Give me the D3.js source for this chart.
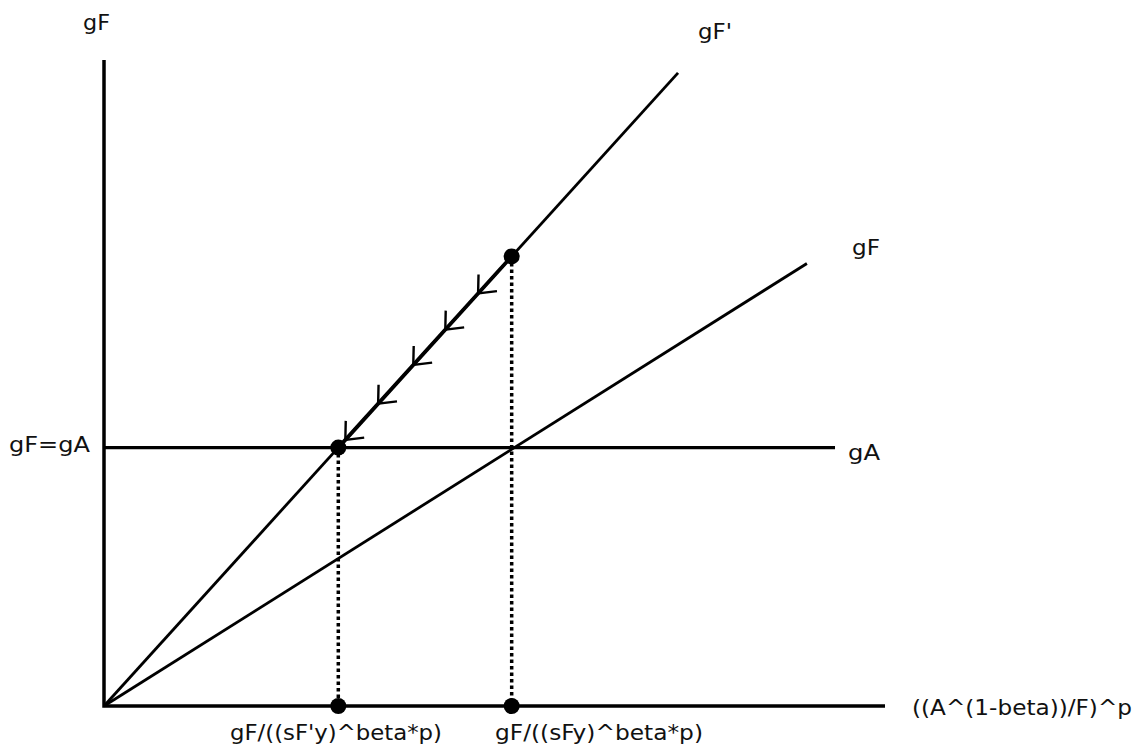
<!DOCTYPE html>
<html>
<head>
<meta charset="utf-8">
<script src="https://cdn.jsdelivr.net/npm/d3@7"></script>
<style>
  html, body { margin: 0; padding: 0; background: #fff; }
  svg { display: block; }
  text { font-family: "DejaVu Sans", Verdana, sans-serif; fill: #111; }
</style>
</head>
<body>
<svg id="chart" width="1145" height="747"></svg>
<script>
// ---- data (abstract diagram units) ----
const axisMax = [10, 10];                 // x-axis and y-axis extent
const gA = 4;                             // horizontal growth line gF = gA
const gALineEnd = 9.36;                   // where the gA line stops
const gFPrimeLine = [[0, 0], [7.35, 9.8]]; // steeper curve gF'
const gFLine = [[0, 0], [9, 6.85]];        // flatter curve gF
const steadyPoints = [[3.0, 4], [5.22, 6.96]]; // dots on gF' (new eq., old position)
const dropPoints = [[3.0, 4], [5.22, 6.96]];   // where dotted lines start
const axisPoints = [3.0, 5.22];                // dots on x-axis
const arrowX = [4.79, 4.37, 3.96, 3.51, 3.09]; // arrowheads along gF'
const xTickLabels = ["gF/((sF'y)^beta*p)", "gF/((sFy)^beta*p)"];
const xAxisTitle = "((A^(1-beta))/F)^p";
const yAxisTitle = "gF";

// ---- scales ----
const svg = d3.select("#chart");
const x = d3.scaleLinear().domain([0, axisMax[0]]).range([104, 885]);
const y = d3.scaleLinear().domain([0, axisMax[1]]).range([706, 60]);
const line = d3.line().x(d => x(d[0])).y(d => y(d[1]));

// ---- axes ----
svg.append("path")
  .attr("d", line([[0, axisMax[1]], [0, 0], [axisMax[0], 0]]))
  .attr("fill", "none").attr("stroke", "#000").attr("stroke-width", 3.5)
  .attr("stroke-linejoin", "miter");

// ---- dotted drop lines ----
dropPoints.forEach((p, i) => {
  svg.append("line")
    .attr("x1", x(p[0])).attr("y1", y(p[1]))
    .attr("x2", x(axisPoints[i])).attr("y2", y(0))
    .attr("stroke", "#000").attr("stroke-width", 3.5)
    .attr("stroke-dasharray", "3.5,3");
});

// ---- curves ----
svg.append("path").attr("d", line([[0, gA], [gALineEnd, gA]]))
  .attr("stroke", "#000").attr("stroke-width", 3.2).attr("fill", "none");
svg.append("path").attr("d", line(gFPrimeLine))
  .attr("stroke", "#000").attr("stroke-width", 2.8).attr("fill", "none");
svg.append("path").attr("d", line(gFLine))
  .attr("stroke", "#000").attr("stroke-width", 2.8).attr("fill", "none");

// thicker segment between the two dots along gF'
svg.append("path").attr("d", line(steadyPoints))
  .attr("stroke", "#000").attr("stroke-width", 3.8).attr("fill", "none");

// ---- arrowheads (pointing toward origin) ----
const slope = gFPrimeLine[1][1] / gFPrimeLine[1][0];
arrowX.forEach(ax => {
  const tx = x(ax), ty = y(ax * slope);
  const dx = x(gFPrimeLine[1][0]) - x(0), dy = y(gFPrimeLine[1][1]) - y(0);
  const len = Math.hypot(dx, dy);
  const bx = dx / len, by = dy / len; // back direction (up-right)
  const L = 19, a = Math.PI / 4.4;
  const rot = (ang) => [bx * Math.cos(ang) - by * Math.sin(ang), bx * Math.sin(ang) + by * Math.cos(ang)];
  const r1 = rot(a), r2 = rot(-a);
  const p1 = [tx + r1[0] * L, ty + r1[1] * L];
  const p2 = [tx + r2[0] * L, ty + r2[1] * L];
  svg.append("path")
    .attr("d", `M${p1[0]},${p1[1]} L${tx},${ty} L${p2[0]},${p2[1]}`)
    .attr("fill", "none").attr("stroke", "#000").attr("stroke-width", 2.4)
    .attr("stroke-linejoin", "miter");
});

// ---- dots ----
steadyPoints.forEach(p => {
  svg.append("circle").attr("cx", x(p[0])).attr("cy", y(p[1])).attr("r", 8).attr("fill", "#000");
});
axisPoints.forEach(v => {
  svg.append("circle").attr("cx", x(v)).attr("cy", y(0)).attr("r", 8).attr("fill", "#000");
});

// ---- labels ----
function label(txt, px, py, w) {
  svg.append("text").attr("x", px).attr("y", py)
    .attr("font-size", 21)
    .attr("textLength", w).attr("lengthAdjust", "spacingAndGlyphs")
    .text(txt);
}
label(yAxisTitle, 83, 30, 27);
label("gF'", 698, 39, 34);
label("gF=gA", 9, 452, 81);
label("gF", 852, 255, 28);
label("gA", 848, 460, 32);
label(xTickLabels[0], 230, 740, 212);
label(xTickLabels[1], 495, 740, 208);
label(xAxisTitle, 912, 715, 220);
</script>
</body>
</html>
